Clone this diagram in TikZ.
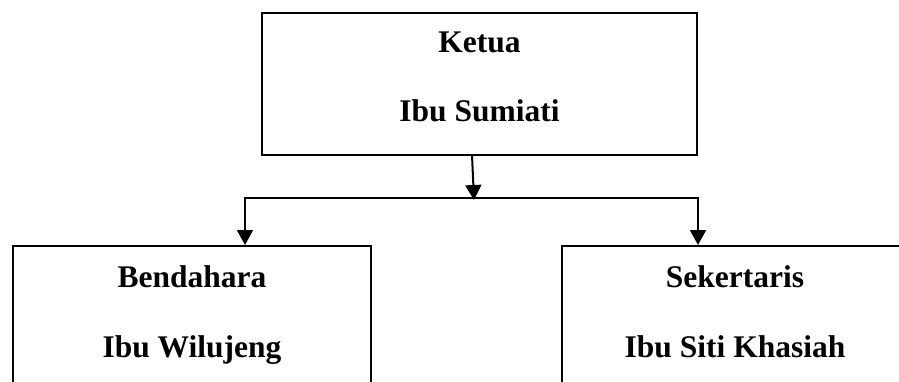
\documentclass[tikz,border=0pt]{standalone}
\usepackage{fontspec}
\setmainfont{Liberation Serif}
\usetikzlibrary{arrows.meta}
\begin{document}
\begin{tikzpicture}[x=1pt,y=-1pt,
  boxstyle/.style={draw=black,line width=2pt,rectangle,inner sep=0pt},
  lbl/.style={anchor=base,inner sep=0pt,font=\fontsize{31.5}{38}\selectfont\bfseries},
  conn/.style={line width=2pt},
  arr/.style={line width=2pt,-{Triangle[length=15pt,width=16pt]}}]
\useasboundingbox (0,0) rectangle (899,382);
\clip (0,0) rectangle (899,382);
% boxes
\node[boxstyle,minimum width=435pt,minimum height=142pt] (T) at (479.5,84) {};
\node[boxstyle,minimum width=358pt,minimum height=170pt] (L) at (192,331) {};
\node[boxstyle,minimum width=346pt,minimum height=170pt] (R) at (735,331) {};
% labels
\node[lbl] (t1) at (479.5,53) {Ketua};
\node[lbl] (t2) at (479.5,122) {Ibu Sumiati};
\node[lbl] (l1) at (192,287) {Bendahara};
\node[lbl] (l2) at (192,357) {Ibu Wilujeng};
\node[lbl] (r1) at (735,287) {Sekertaris};
\node[lbl] (r2) at (735,357) {Ibu Siti Khasiah};
% connectors
\coordinate (js) at (472,155);
\coordinate (jm) at (474,200);
\coordinate (jl) at (245,198);
\coordinate (jr) at (698,198);
\draw[arr] (js) -- (jm);
\draw[conn,line cap=rect] (jl) -- (jr);
\draw[arr] (jl) -- (jl |- L.north);
\draw[arr] (jr) -- (jr |- R.north);
\end{tikzpicture}
\end{document}
